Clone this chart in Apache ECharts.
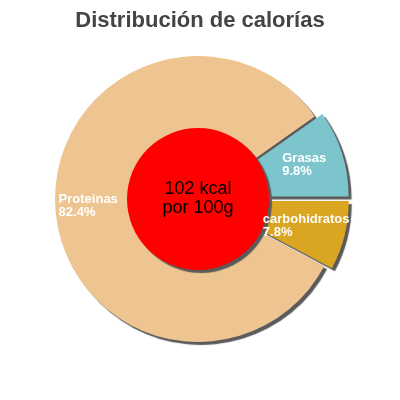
<!DOCTYPE html>
<html>
<head>
<meta charset="utf-8">
<script src="https://cdn.jsdelivr.net/npm/echarts@6/dist/echarts.min.js"></script>
<style>
  html, body { margin: 0; padding: 0; background: #fff; }
  #graph { width: 400px; height: 400px; }
</style>
</head>
<body>
<div id="graph"></div>
<script>
// datos del grafico
let titleText = "Distribución de calorías";
let categories = ["Grasas", "carbohidratos", "Proteinas"];
let percents = [9.8, 7.8, 82.4];
let colors = ["#7cc5cd", "#daa520", "#eec591"];
let exploded = [true, true, false];
let energyKcal = 102;
let energyBase = "100g";

let cx = 198, cy = 199, outerR = 143, innerR = 71;
// la frontera Grasas / carbohidratos queda horizontal
let startAngle = percents[0] * 3.6;

// angulo medio de cada porcion, para poner la etiqueta dentro
function midAngle(idx) {
    let acc = 0;
    for (let i = 0; i < idx; i++) acc += percents[i];
    let a = startAngle - (acc + percents[idx] / 2) * 3.6;
    return a * Math.PI / 180;
}

let myChart = echarts.init(document.getElementById('graph'));

let pieData = [];
for (let i = 0; i < categories.length; i++) {
    pieData.push({
        name: categories[i],
        value: percents[i],
        selected: exploded[i],
        itemStyle: { color: colors[i] }
    });
}

let shadow = {
    shadowColor: 'rgba(90,90,90,1)',
    shadowBlur: 1,
    shadowOffsetX: 3,
    shadowOffsetY: 3
};

let option = {
    animation: false,
    title: {
        text: titleText,
        left: 'center',
        top: 5,
        textStyle: {
            fontFamily: 'Liberation Sans',
            fontSize: 22,
            fontWeight: 'bold',
            color: '#444'
        }
    },
    series: [
        {
            type: 'pie',
            center: [cx, cy],
            // el hueco queda tapado por el circulo rojo
            radius: [58, outerR],
            startAngle: startAngle,
            clockwise: true,
            selectedMode: 'multiple',
            selectedOffset: 8,
            silent: true,
            itemStyle: shadow,
            labelLine: { show: false },
            label: {
                show: true,
                position: 'inside',
                // lineas alineadas a la izquierda dentro del bloque
                formatter: function (p) { return "{l|" + p.name + "}\n{l|" + p.value + "%}"; },
                rich: {
                    l: {
                        align: 'left',
                        color: '#fff',
                        fontFamily: 'Liberation Sans',
                        fontSize: 13,
                        fontWeight: 'bold',
                        lineHeight: 13
                    }
                }
            },
            labelLayout: function (p) {
                if (exploded[p.dataIndex]) return {};
                let a = midAngle(p.dataIndex);
                let r = 110;
                return {
                    x: cx + r * Math.cos(a),
                    y: cy - r * Math.sin(a),
                    align: 'center',
                    verticalAlign: 'middle'
                };
            },
            data: pieData
        },
        {
            // circulo central, "seleccionado" sin desplazamiento para quedar
            // encima de las porciones separadas
            type: 'pie',
            center: [cx, cy],
            radius: [0, innerR],
            silent: true,
            selectedMode: 'single',
            selectedOffset: 0,
            itemStyle: Object.assign({ color: '#ff0000' }, shadow),
            labelLine: { show: false },
            label: {
                show: true,
                position: 'center',
                color: '#000',
                fontFamily: 'Liberation Sans',
                fontSize: 18,
                lineHeight: 19
            },
            data: [{ value: energyKcal, name: energyKcal + " kcal\npor " + energyBase, selected: true }]
        }
    ]
};
myChart.setOption(option);
</script>
</body>
</html>
